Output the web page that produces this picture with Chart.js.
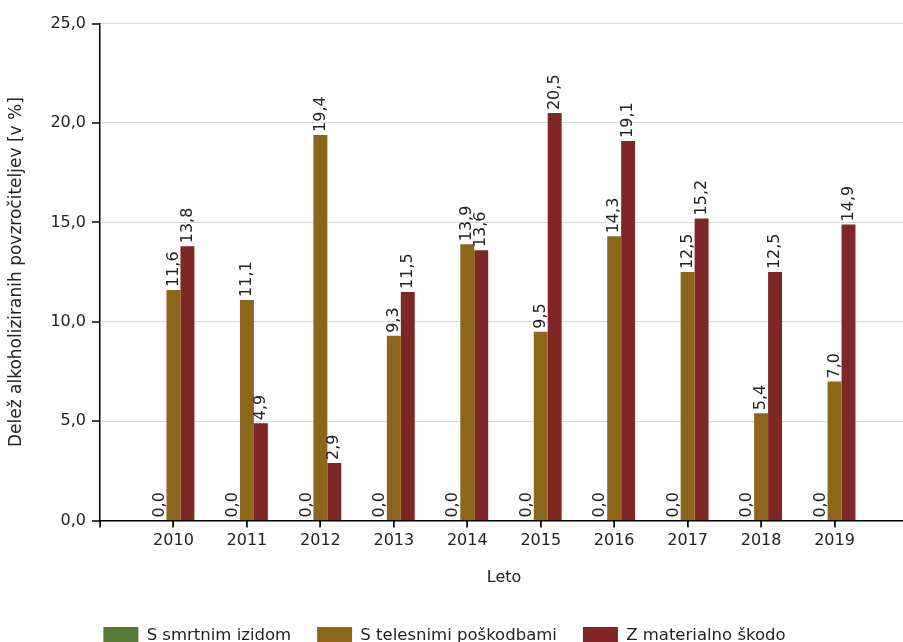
<!DOCTYPE html>
<html>
<head>
<meta charset="utf-8">
<script src="https://cdn.jsdelivr.net/npm/chart.js@4"></script>
<style>
  html, body { margin: 0; padding: 0; background: #fff; overflow: hidden; }
  #wrap { width: 913px; height: 655px; position: relative; }
</style>
</head>
<body>
<div id="wrap"><canvas id="myChart"></canvas></div>
<script>
// chart data
const years = ['2010', '2011', '2012', '2013', '2014', '2015', '2016', '2017', '2018', '2019'];
const smrtni = [0, 0, 0, 0, 0, 0, 0, 0, 0, 0];
const telesne = [11.6, 11.1, 19.4, 9.3, 13.9, 9.5, 14.3, 12.5, 5.4, 7.0];
const materialna = [13.8, 4.9, 2.9, 11.5, 13.6, 20.5, 19.1, 15.2, 12.5, 14.9];
const yTicks = [0, 5, 10, 15, 20, 25];

const fmt = v => v.toFixed(1).replace('.', ',');
// empty slot at both ends so 2010 sits one category in from the axis
const pad = arr => [null, ...arr, null];
const FONT = 'DejaVu Sans';

// value labels, rotated, above each bar
const barLabels = {
    id: 'barLabels',
    afterDatasetsDraw(chart) {
        const c = chart.ctx;
        c.save();
        c.font = '16px "' + FONT + '"';
        c.fillStyle = '#222';
        c.textAlign = 'left';
        c.textBaseline = 'middle';
        chart.data.datasets.forEach((ds, i) => {
            chart.getDatasetMeta(i).data.forEach((el, j) => {
                const v = ds.data[j];
                if (v === null || v === undefined) return;
                c.save();
                c.translate(el.x, el.y - 3);
                c.rotate(-Math.PI / 2);
                c.fillText(fmt(v), 0, 0);
                c.restore();
            });
        });
        c.restore();
    }
};

// black tick marks on both axes (grid lines stay grey)
const tickMarks = {
    id: 'tickMarks',
    afterDraw(chart) {
        const x = chart.scales.x, y = chart.scales.y, c = chart.ctx;
        c.save();
        c.strokeStyle = '#000';
        c.lineWidth = 1.5;
        yTicks.forEach(t => {
            const py = Math.round(y.getPixelForValue(t));
            c.beginPath();
            c.moveTo(y.right - 8, py);
            c.lineTo(y.right, py);
            c.stroke();
        });
        x.ticks.forEach((t, i) => {
            const px = Math.round(x.getPixelForTick(i));
            c.beginPath();
            c.moveTo(px, x.top);
            c.lineTo(px, x.top + 7);
            c.stroke();
        });
        c.restore();
    }
};

// legend sits a bit left of the canvas centre in the original
const legendShift = {
    id: 'legendShift',
    afterLayout(chart) {
        chart.legend.left -= 15;
        chart.legend.right -= 15;
    }
};

const ctx = document.getElementById('myChart').getContext('2d');

const myChart = new Chart(ctx, {
    type: 'bar',
    data: {
        labels: pad(years).map(v => v === null ? '' : v),
        datasets: [
            { label: 'S smrtnim izidom', data: pad(smrtni), backgroundColor: '#557a35' },
            { label: 'S telesnimi poškodbami', data: pad(telesne), backgroundColor: '#8b661b' },
            { label: 'Z materialno škodo', data: pad(materialna), backgroundColor: '#7e2724' }
        ]
    },
    options: {
        responsive: true,
        maintainAspectRatio: false,
        animation: false,
        devicePixelRatio: 1,
        layout: { padding: { top: 22, right: 0, left: 6, bottom: 0 } },
        datasets: { bar: { barPercentage: 1, categoryPercentage: 0.57 } },
        plugins: {
            legend: {
                position: 'bottom',
                labels: {
                    color: '#222',
                    font: { family: FONT, size: 16.5 },
                    boxWidth: 35,
                    boxHeight: 18,
                    padding: 26
                }
            },
            tooltip: { enabled: false }
        },
        scales: {
            x: {
                offset: false,
                grid: { offset: false, drawOnChartArea: false, color: '#000', tickLength: 6 },
                border: { color: '#000', width: 1.5 },
                ticks: { color: '#222', font: { family: FONT, size: 16 }, padding: 5, maxRotation: 0, autoSkip: false },
                title: { display: true, text: 'Leto', color: '#222', font: { family: FONT, size: 16 }, padding: { top: 12, bottom: 14 } }
            },
            y: {
                min: 0,
                max: 25,
                afterBuildTicks: s => { s.ticks = yTicks.map(v => ({ value: v })); },
                grid: { color: '#d9d9d9', drawTicks: false },
                border: { color: '#000', width: 1.5 },
                ticks: { color: '#222', font: { family: FONT, size: 16 }, padding: 14, callback: v => fmt(v) },
                title: { display: true, text: 'Delež alkoholiziranih povzročiteljev [v %]', color: '#222', font: { family: FONT, size: 17 }, padding: { top: 0, bottom: 10 } }
            }
        }
    },
    plugins: [barLabels, tickMarks, legendShift]
});
</script>
</body>
</html>
